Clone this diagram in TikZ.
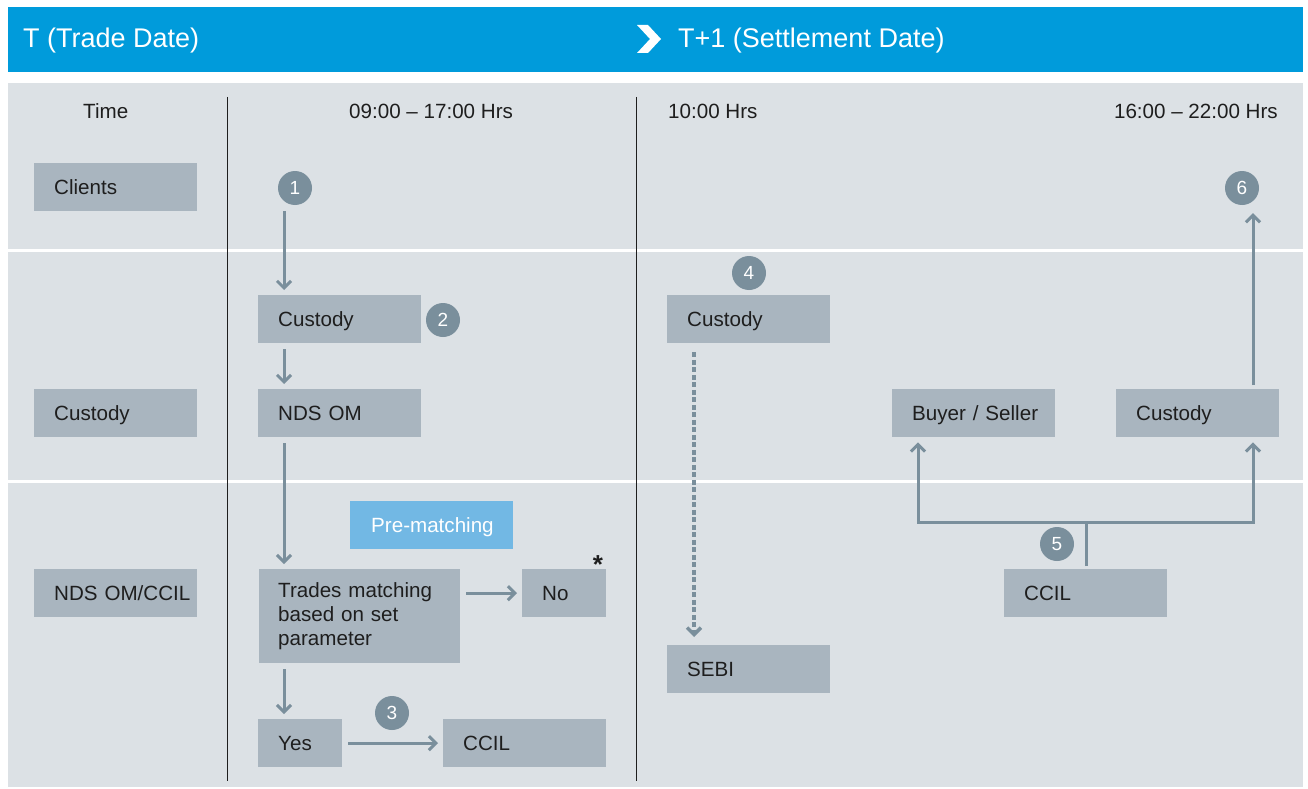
\documentclass[tikz,border=0pt]{standalone}
\usepackage{fontspec}
\setmainfont{Liberation Sans}
\usetikzlibrary{arrows.meta,calc}
\definecolor{hdrblue}{RGB}{0,155,219}
\definecolor{panel}{RGB}{220,225,229}
\definecolor{boxc}{RGB}{169,181,191}
\definecolor{numc}{RGB}{122,143,156}
\definecolor{prem}{RGB}{114,184,228}
\definecolor{txt}{RGB}{30,30,30}
\begin{document}
\begin{tikzpicture}[x=1pt,y=-1pt,
  bodyf/.style={font=\fontsize{20.6}{24}\selectfont},
  boxbase/.style={bodyf, fill=boxc, text=txt, anchor=north west, minimum width=163pt, minimum height=48pt, text width=123pt, inner xsep=20pt, inner ysep=0pt, align=left},
  boxa/.style={boxbase, text height=15pt, text depth=0pt},
  num/.style={circle, fill=numc, minimum size=34pt, inner sep=0pt, text=white, font=\fontsize{19}{22}\selectfont},
  arr/.style={draw=numc, line width=3pt, -{Straight Barb[length=7pt,width=14pt]}, shorten >=5pt, shorten <=6pt},
  ln/.style={draw=numc, line width=3pt},
  lbl/.style={bodyf, text=txt, inner sep=0pt, anchor=base west},
  hdr/.style={font=\fontsize{27}{30}\selectfont, text=white, inner sep=0pt, anchor=base west},
  sepline/.style={draw=txt, line width=1pt},
  wline/.style={draw=white, line width=3pt}
]
\useasboundingbox (0,0) rectangle (1308,789);
\fill[white] (0,0) rectangle (1308,789);
% header bar
\fill[hdrblue] (8,7) rectangle (1303,72);
\fill[white] (637,25) -- (648,25) -- (661,39) -- (648,53) -- (637,53) -- (650,39) -- cycle;
\node[hdr] (tdate) at (23,47.3) {T (Trade Date)};
\node[hdr] (sdate) at (678,47.3) {T+1 (Settlement Date)};
% panel
\fill[panel] (8,83) rectangle (1303,787);
\draw[wline] (8,250.5) -- (1303,250.5);
\draw[wline] (8,481) -- (1303,481);
\draw[sepline] (227.5,97) -- (227.5,781);
\draw[sepline] (636,97) -- (636,781);
% column labels
\node[lbl] (ltime) at (83,119) {Time};
\node[lbl] (lt1) at (349,119) {09:00 – 17:00 Hrs};
\node[lbl] (lt2) at (668,119) {10:00 Hrs};
\node[lbl, anchor=base east] (lt3) at (1278,119) {16:00 – 22:00 Hrs};
% row labels
\node[boxa] (clients) at (34,163) {Clients};
\node[boxa] (lcust) at (34,389) {Custody};
\node[boxa] (lnds) at (34,569) {\mbox{NDS OM/CCIL}};
% T column
\node[boxa] (cust1) at (258,295) {Custody};
\node[boxa] (nds) at (258,389) {NDS OM};
\node[boxbase, minimum width=201pt, minimum height=94pt, text width=163pt, inner xsep=19pt] (trades) at (259,569) {Trades matching\\based on set\\parameter};
\node[boxa, minimum width=84pt, text width=44pt] (no) at (522,569) {No};
\node[text=txt, font=\fontsize{26}{28}\selectfont\bfseries, inner sep=0pt, anchor=base] (ast) at (598,573) {*};
\node[boxa, minimum width=84pt, text width=44pt] (yes) at (258,719) {Yes};
\node[boxa] (ccil1) at (443,719) {CCIL};
\node[boxa, fill=prem, text=white, text width=121pt, inner xsep=21pt] (prem) at (350,501) {\mbox{Pre-matching}};
% T+1 column
\node[boxa] (cust4) at (667,295) {Custody};
\node[boxa] (sebi) at (667,645) {SEBI};
\node[boxa] (bs) at (892,389) {\mbox{Buyer / Seller}};
\node[boxa] (cust5) at (1116,389) {Custody};
\node[boxa] (ccil2) at (1004,569) {CCIL};
% numbers
\node[num] (n1) at (295,188) {1};
\node[num] (n2) at (443,320) {2};
\node[num] (n3) at (392,713) {3};
\node[num] (n4) at (749,273) {4};
\node[num] (n5) at (1057,544) {5};
\node[num] (n6) at (1242,188) {6};
% arrows T column
\coordinate (ax) at ($(cust1.north west)+(26,0)$);
\draw[arr] (n1.south -| ax) -- (ax);
\draw[arr] (cust1.south -| ax) -- (nds.north -| ax);
\draw[arr] (nds.south -| ax) -- (trades.north -| ax);
\draw[arr] (trades.south -| ax) -- (yes.north -| ax);
\draw[arr] (no.west -| trades.east) -- (no.west);
\draw[arr] (yes.east) -- (ccil1.west);
% dashed arrow
\coordinate (dx) at ($(cust4.south west)+(27,0)$);
\draw[arr, dash pattern=on 5pt off 2.5pt, line width=3.5pt, shorten <=9pt, shorten >=8pt] (cust4.south -| dx) -- (sebi.north -| dx);
% tree from CCIL
\coordinate (j) at ($(ccil2.north west)+(82,-47)$);
\coordinate (bx) at ($(bs.south west)+(26,0)$);
\coordinate (cx) at ($(cust5.south west)+(137,0)$);
\draw[ln, shorten <=3pt] (ccil2.north -| j) -- (j);
\draw[arr, shorten <=0pt] (j) -| (bs.south -| bx);
\draw[arr, shorten <=0pt] (j) -| (cust5.south -| cx);
\draw[arr, shorten <=4pt, shorten >=8pt] (cust5.north -| cx) -- (n6.south -| cx);
\end{tikzpicture}
\end{document}
